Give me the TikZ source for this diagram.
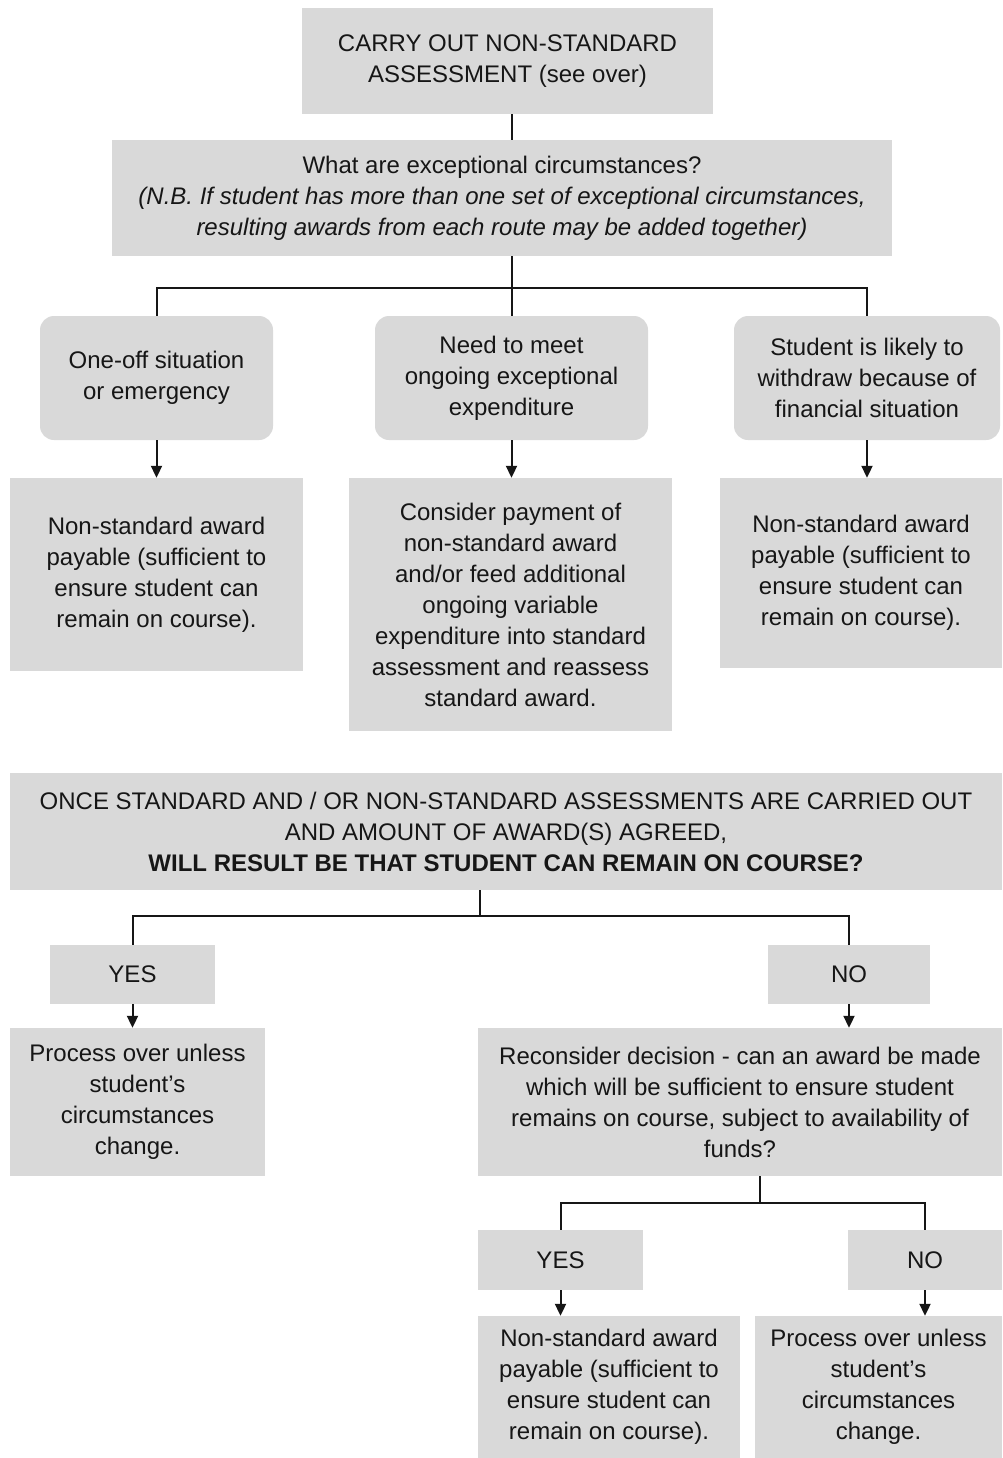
\documentclass[tikz,border=0pt]{standalone}
\usepackage{fontspec}
\setmainfont{Liberation Sans}
\usetikzlibrary{positioning, arrows.meta}
\definecolor{boxgray}{HTML}{D9D9D9}
\definecolor{inkgray}{HTML}{161616}

\tikzset{
    box/.style={fill=boxgray, inner sep=0pt, align=center, text=inkgray,
        font=\fontsize{24}{31}\selectfont},
    rbox/.style={box, rounded corners=14pt},
    link/.style={line width=2pt, inkgray},
    arr/.style={link, -{Triangle[width=11pt, length=12pt]}}
}

\begin{document}
\begin{tikzpicture}[x=1pt, y=-1pt]
    \useasboundingbox (0,0) rectangle (1002,1458);

    % top part
    \node[box, minimum width=411, minimum height=106] (top) at (507.5,61)
        {CARRY OUT NON-STANDARD\\ASSESSMENT (see over)};
    \node[box, minimum width=780, minimum height=116] (exc) at (502,198)
        {What are exceptional circumstances?\\
         \textit{(N.B. If student has more than one set of exceptional circumstances,}\\
         \textit{resulting awards from each route may be added together)}};

    \node[rbox, minimum width=233, minimum height=124] (oneoff) at (156.5,378)
        {One-off situation\\or emergency};
    \node[rbox, minimum width=273, minimum height=124] (ongoing) at (511.5,378)
        {Need to meet\\ongoing exceptional\\expenditure};
    \node[rbox, minimum width=266, minimum height=124] (withdraw) at (867,378)
        {Student is likely to\\withdraw because of\\financial situation};

    \node[box, minimum width=293, minimum height=193] (payA) at (156.5,574.5)
        {Non-standard award\\payable (sufficient to\\ensure student can\\remain on course).};
    \node[box, minimum width=323, minimum height=253] (consider) at (510.5,604.5)
        {Consider payment of\\non-standard award\\and/or feed additional\\ongoing variable\\expenditure into standard\\assessment and reassess\\standard award.};
    \node[box, minimum width=282, minimum height=190] (payC) at (861,573)
        {Non-standard award\\payable (sufficient to\\ensure student can\\remain on course).};

    \draw[link] (top.south -| ongoing.north) -- (ongoing.north |- exc.north);
    \coordinate (fork1) at (ongoing.north |- 0,288);
    \draw[link] (fork1 |- exc.south) -- (ongoing.north);
    \draw[link] (oneoff.north) |- (fork1) -| (withdraw.north);
    \foreach \u/\v in {oneoff/payA, ongoing/consider, withdraw/payC}
        \draw[arr] (\u.south) -- (\u.south |- \v.north);

    % bottom part
    \node[box, minimum width=992, minimum height=117] (result) at (506,831.5)
        {ONCE STANDARD AND / OR NON-STANDARD ASSESSMENTS ARE CARRIED OUT\\
         AND AMOUNT OF AWARD(S) AGREED,\\
         \textbf{WILL RESULT BE THAT STUDENT CAN REMAIN ON COURSE?}};

    \node[box, minimum width=165, minimum height=59] (yesA) at (132.5,974.5) {YES};
    \node[box, minimum width=162, minimum height=59] (noA) at (849,974.5) {NO};
    \node[box, minimum width=255, minimum height=148] (overA) at (137.5,1102)
        {Process over unless\\student's\\circumstances\\change.};
    \node[box, minimum width=524, minimum height=148] (recons) at (740,1102)
        {Reconsider decision - can an award be made\\which will be sufficient to ensure student\\remains on course, subject to availability of\\funds?};

    \node[box, minimum width=165, minimum height=60] (yesB) at (560.5,1260) {YES};
    \node[box, minimum width=154, minimum height=60] (noB) at (925,1260) {NO};
    \node[box, minimum width=262, minimum height=142] (payB) at (609,1387)
        {Non-standard award\\payable (sufficient to\\ensure student can\\remain on course).};
    \node[box, minimum width=247, minimum height=142] (overB) at (878.5,1387)
        {Process over unless\\student's\\circumstances\\change.};

    \coordinate (fork2) at (480,916);
    \draw[link] (fork2 |- result.south) -- (fork2);
    \draw[link] (yesA.north) |- (fork2) -| (noA.north);
    \coordinate (fork3) at (760,1203);
    \draw[link] (fork3 |- recons.south) -- (fork3);
    \draw[link] (yesB.north) |- (fork3) -| (noB.north);
    \foreach \u/\v in {yesA/overA, noA/recons, yesB/payB, noB/overB}
        \draw[arr] (\u.south) -- (\u.south |- \v.north);
\end{tikzpicture}
\end{document}
